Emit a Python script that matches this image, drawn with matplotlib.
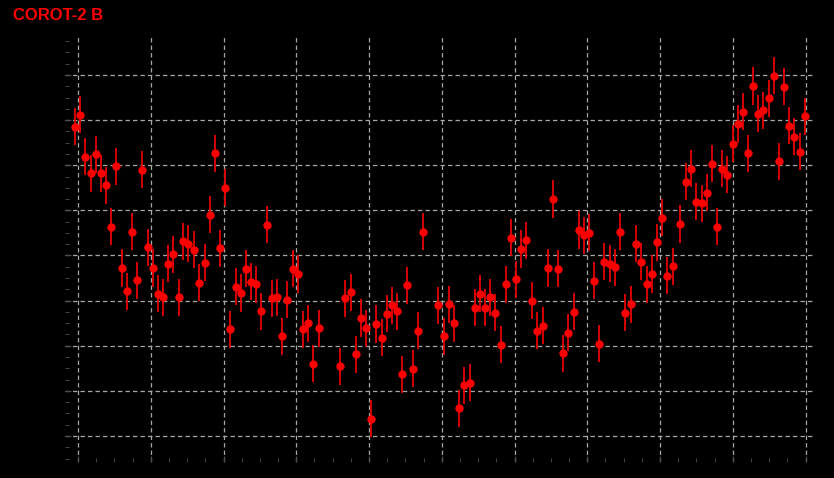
import matplotlib
matplotlib.use("Agg")
import matplotlib.pyplot as plt
from matplotlib.ticker import MultipleLocator, AutoMinorLocator

# x: orbital phase position in grid units, y: relative flux in grid units
x_vals = [-0.041, 0.027, 0.096, 0.179, 0.247, 0.316, 0.385, 0.454, 0.522, 0.605,
          0.674, 0.742, 0.811, 0.880, 0.962, 1.031, 1.100, 1.168, 1.237, 1.306,
          1.388, 1.443, 1.512, 1.595, 1.663, 1.746, 1.814, 1.883, 1.952, 2.021,
          2.089, 2.172, 2.241, 2.309, 2.378, 2.447, 2.515, 2.598, 2.667, 2.735,
          2.804, 2.873, 2.955, 3.024, 3.093, 3.162, 3.230, 3.313, 3.601, 3.670,
          3.753, 3.821, 3.890, 3.959, 4.027, 4.096, 4.179, 4.247, 4.316, 4.385,
          4.454, 4.522, 4.605, 4.674, 4.742, 4.948, 5.031, 5.100, 5.168, 5.237,
          5.306, 5.388, 5.457, 5.526, 5.595, 5.663, 5.732, 5.814, 5.883, 5.952,
          6.021, 6.089, 6.158, 6.241, 6.309, 6.392, 6.460, 6.529, 6.598, 6.667,
          6.735, 6.818, 6.887, 6.955, 7.024, 7.093, 7.162, 7.230, 7.313, 7.381,
          7.450, 7.519, 7.601, 7.670, 7.739, 7.821, 7.890, 7.959, 8.027, 8.096,
          8.179, 8.275, 8.357, 8.426, 8.495, 8.577, 8.646, 8.715, 8.784, 8.852,
          8.921, 9.003, 9.072, 9.141, 9.210, 9.278, 9.347, 9.416, 9.498, 9.567,
          9.636, 9.704, 9.773, 9.842, 9.924, 9.993]

y_vals = [6.848, 7.114, 6.183, 5.828, 6.249, 5.828, 5.562, 4.632, 5.983, 3.723,
          3.213, 4.521, 3.457, 5.895, 4.188, 3.723, 3.147, 3.080, 3.812, 4.033,
          3.080, 4.321, 4.255, 4.122, 3.391, 3.834, 4.898, 6.271, 4.166, 5.496,
          2.371, 3.302, 3.169, 3.701, 3.413, 3.368, 2.770, 4.676, 3.058, 3.080,
          2.216, 3.014, 3.701, 3.590, 2.371, 2.504, 1.596, 2.393, 1.551, 3.058,
          3.191, 1.817, 2.615, 2.393, 0.377, 2.482, 2.172, 2.704, 2.903, 2.770,
          1.374, 3.346, 1.485, 2.327, 4.521, 2.903, 2.216, 2.925, 2.504, 0.620,
          1.130, 1.175, 2.837, 3.147, 2.837, 3.080, 2.726, 2.017, 3.368, 4.388,
          3.479, 4.144, 4.343, 2.992, 2.327, 2.438, 3.723, 5.252, 3.701, 1.839,
          2.283, 2.748, 4.565, 4.454, 4.499, 3.435, 2.039, 3.856, 3.812, 3.745,
          4.521, 2.726, 2.925, 4.255, 3.856, 3.368, 3.590, 4.299, 4.831, 3.546,
          3.767, 4.698, 5.629, 5.917, 5.186, 5.163, 5.385, 6.028, 4.632, 5.917,
          5.784, 6.471, 6.914, 7.180, 6.271, 7.756, 7.136, 7.224, 7.490, 7.978,
          6.094, 7.734, 6.870, 6.626, 6.294, 7.091]

y_err = 0.41

title_text = "COROT-2 B"

fig = plt.figure(figsize=(8.34, 4.78), dpi=100, facecolor="black")
ax = fig.add_axes([65/834, 16/478, 748/834, 426/478])
ax.set_facecolor("black")

ax.errorbar(x_vals, y_vals, yerr=y_err, fmt="o", color="#ff0000",
            ecolor="#e80000", elinewidth=1.3, markersize=6, capsize=0,
            markeredgewidth=0, zorder=3)

ax.set_xlim(-0.179, 10.103)
ax.set_ylim(-0.576, 8.864)

ax.xaxis.set_major_locator(MultipleLocator(1))
ax.yaxis.set_major_locator(MultipleLocator(1))
ax.xaxis.set_minor_locator(AutoMinorLocator(4))
ax.yaxis.set_minor_locator(AutoMinorLocator(4))

ax.grid(True, which="major", color="#a8a8a8", linestyle=(0, (3.5, 2.5)), linewidth=0.9)
ax.tick_params(which="both", direction="in", colors="#505050", labelcolor="black",
               labelsize=8, top=False, right=False)
ax.tick_params(which="minor", length=3)
ax.tick_params(which="major", length=4)
for s in ax.spines.values():
    s.set_visible(False)

fig.text(13/834, 1 - 15/478, title_text, color="#ff0000", fontweight="bold",
         fontsize=12, family="Liberation Sans", va="center", ha="left")

fig.savefig("out.png", dpi=100, facecolor="black")
